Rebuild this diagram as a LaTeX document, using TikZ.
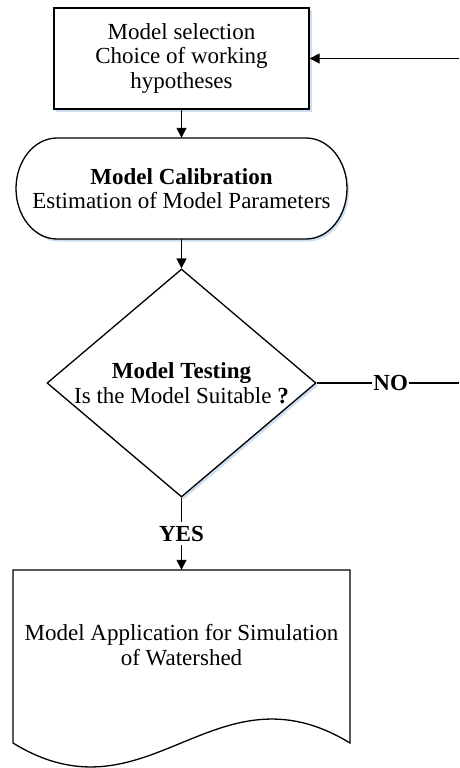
\documentclass[tikz,border=0pt]{standalone}
\usepackage{fontspec}
\setmainfont{Liberation Serif}
\usetikzlibrary{shapes.geometric,arrows.meta,calc}
\definecolor{shadowblue}{RGB}{205,222,240}
\begin{document}
\begin{tikzpicture}[x=1pt,y=-1pt]
\tikzset{
  lbl/.style={font=\fontsize{23}{24.5}\selectfont, align=center, inner sep=0pt},
  conn/.style={line width=1.3pt, -{Triangle[length=10pt,width=10pt]}},
  plainline/.style={line width=1.3pt},
  boxshape/.style={draw, line width=1.3pt, fill=white},
  tag/.style={font=\fontsize{23}{24.5}\selectfont\bfseries, fill=white, inner xsep=1pt, inner ysep=4pt},
}
\useasboundingbox (0,0) rectangle (459,768);

% Model selection box
\fill[shadowblue] (56,10.5) rectangle (311.5,111.5);
\node[boxshape, lbl, minimum width=255pt, minimum height=101pt] (sel) at (181.5,58.5)
  {Model selection\\Choice of working\\hypotheses};

% Calibration (terminator)
\fill[shadowblue] (59,140.5) -- (308,140.5) .. controls (330.6,140.5) and (349,163.1) .. (349,191) .. controls (349,218.9) and (330.6,241.5) .. (308,241.5) -- (59,241.5) .. controls (36.4,241.5) and (18,218.9) .. (18,191) .. controls (18,163.1) and (36.4,140.5) .. (59,140.5) -- cycle;
\filldraw[fill=white, line width=1.3pt] (57,138) -- (306,138) .. controls (328.6,138) and (347,160.6) .. (347,188.5) .. controls (347,216.4) and (328.6,239) .. (306,239) -- (57,239) .. controls (34.4,239) and (16,216.4) .. (16,188.5) .. controls (16,160.6) and (34.4,138) .. (57,138) -- cycle;
\node[lbl, minimum width=331pt, minimum height=101pt] (calib) at (181.5,188.5)
  {\textbf{Model Calibration}\\Estimation of Model Parameters};

% Model testing (decision)
\node[diamond, fill=shadowblue, minimum width=269pt, minimum height=228pt, inner sep=0pt] (testshadow) at (183.5,385.5) {};
\node[diamond, boxshape, minimum width=269pt, minimum height=228pt, inner sep=0pt] (test) at (181.5,383) {};
\node[lbl] (testtxt) at (181.5,383) {\textbf{Model Testing}\\Is the Model Suitable \textbf{?}};

% Model application (document)
\filldraw[fill=white, line width=1.3pt] (13,570) -- (350,570) -- (350,743) .. controls (214,660) and (148,826) .. (13,743) -- cycle;
\node[minimum width=337pt, minimum height=173pt, inner sep=0pt] (app) at (181.5,656.5) {};
\node[lbl] (apptxt) at (181.5,645) {Model Application for Simulation\\of Watershed};

% connectors
\coordinate (loopin) at (459,58.5);
\coordinate (noend) at (459,383);
\draw[conn] (loopin) -- (sel.east);
\draw[conn] (sel.south) -- (calib.north);
\draw[conn] (calib.south) -- (test.north);
\draw[plainline] (test.east) -- node[tag, pos=0.52] {NO} (noend);
\draw[conn] (test.south) -- node[tag, pos=0.5] {YES} (app.north);
\end{tikzpicture}
\end{document}
